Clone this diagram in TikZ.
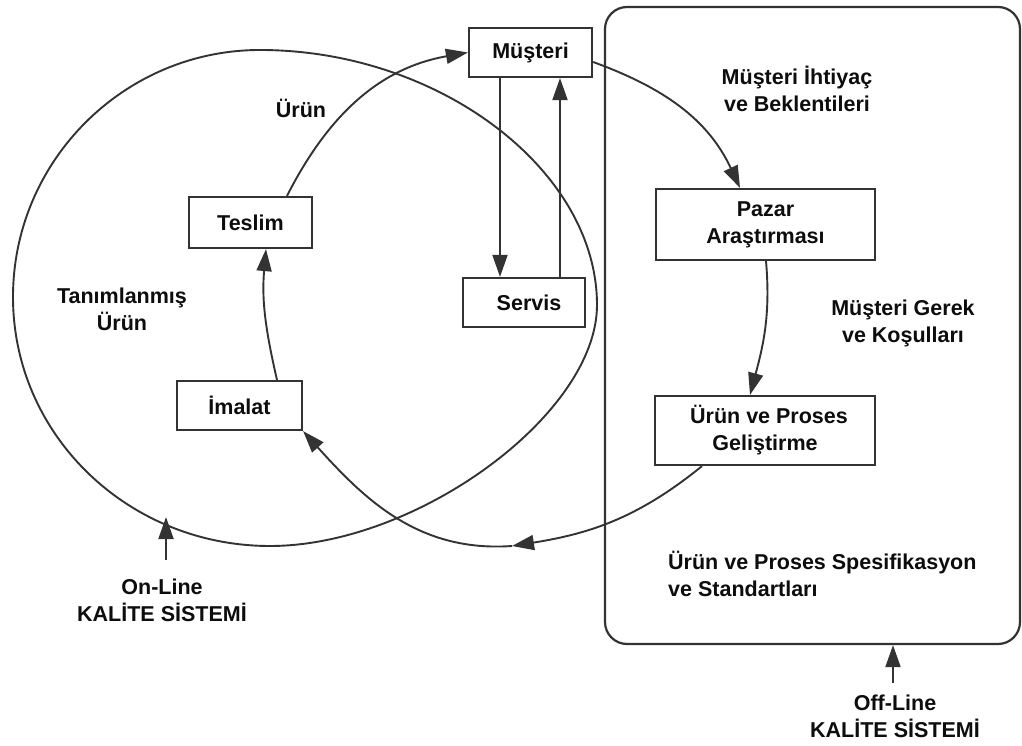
\documentclass[tikz,border=0pt]{standalone}
\usepackage{fontspec}
\setmainfont{Liberation Sans}
\usetikzlibrary{arrows.meta}
\definecolor{ln}{gray}{0.2}
\definecolor{txt}{gray}{0.05}
\begin{document}
\begin{tikzpicture}[x=1pt,y=1pt,
  lbl/.style={font=\fontsize{21.5}{27}\selectfont\bfseries, text=txt, align=center, inner sep=0pt},
  box/.style={draw=ln, line width=2.2pt, fill=white, inner sep=0pt, lbl},
  conn/.style={draw=ln, line width=1.9pt, -{Triangle[length=22pt,width=15pt]}},
  plain/.style={draw=ln, line width=1.9pt}]
\fill[white] (0,0) rectangle (1022,745);
\useasboundingbox (0,0) rectangle (1022,745);

% On-line loop (closed egg-shaped curve)
\draw[plain] (13,448)
  .. controls (13,584) and (124,695) .. (260,695)
  .. controls (439,695) and (597,575) .. (597,440)
  .. controls (597,331) and (417,199) .. (270,199)
  .. controls (128,199) and (13,310) .. (13,448) -- cycle;

% Off-line system frame
\node[draw=ln, line width=2.2pt, rounded corners=22pt, minimum width=415pt, minimum height=637pt] (offline) at (812.5,419.5) {};

% Boxes
\node[box, minimum width=123pt, minimum height=49pt] (musteri) at (530.5,692.5) {Müşteri};
\node[box, minimum width=123pt, minimum height=51pt] (teslim) at (250.5,522.5) {Teslim};
\node[box, minimum width=125pt, minimum height=49pt] (imalat) at (239.5,339.5) {İmalat};
\node[box, minimum width=122pt, minimum height=49pt] (servis) at (524,442.5) {\hspace*{10pt}Servis};
\node[box, minimum width=219pt, minimum height=71pt] (pazar) at (765.5,520.5) {Pazar\\Araştırması};
\node[box, minimum width=220pt, minimum height=69pt] (urun) at (765,314.5) {\hspace*{8pt}Ürün ve Proses\\Geliştirme};

% Labels
\node[lbl] (ihtiyac) at (797,656.5) {Müşteri İhtiyaç\\ve Beklentileri};
\node[lbl] (gerek) at (903,421.5) {Müşteri Gerek\\ve Koşulları};
\node[lbl, align=left, anchor=west] (spec) at (668,171) {Ürün ve Proses Spesifikasyon\\ve Standartları};
\node[lbl] (tanim) at (122,435.5) {Tanımlanmış\\Ürün};
\node[lbl] (urunlbl) at (301,637) {Ürün};
\node[lbl] (ontext) at (162,145) {On-Line\\KALİTE SİSTEMİ};
\node[lbl] (offtext) at (895,29) {Off-Line\\KALİTE SİSTEMİ};

% Coordinates
\coordinate (btip) at (512,199);
\coordinate (ms1) at ([xshift=-30.5pt]musteri.south);
\coordinate (ms2) at ([xshift=29.5pt]musteri.south);
\coordinate (ona) at (166,185);
\coordinate (onb) at (166,228);
\coordinate (offa) at (893,62);

% Product loop
\draw[conn] ([xshift=36.5pt]teslim.north) to[out=63,in=190] (musteri.west);
\draw[conn] ([yshift=-9.5pt]musteri.east) to[out=-20,in=115] ([xshift=-25.5pt]pazar.north);
\draw[conn] ([xshift=0.5pt]pazar.south) to[out=-85,in=75] ([xshift=-15pt]urun.north);
\draw[conn] ([xshift=-63pt]urun.south) to[out=219,in=9] (btip);
\draw[conn] (btip) to[out=184,in=-48] (imalat.south east);
\draw[conn] ([xshift=37.5pt]imalat.north) to[out=103,in=-95] ([xshift=15.5pt]teslim.south);

% Müşteri <-> Servis
\draw[conn] (ms1) -- (ms1 |- servis.north);
\draw[conn] (ms2 |- servis.north) -- (ms2);

% System arrows
\draw[conn] (ona) -- (onb);
\draw[conn] (offa) -- (offa |- offline.south);
\end{tikzpicture}
\end{document}
